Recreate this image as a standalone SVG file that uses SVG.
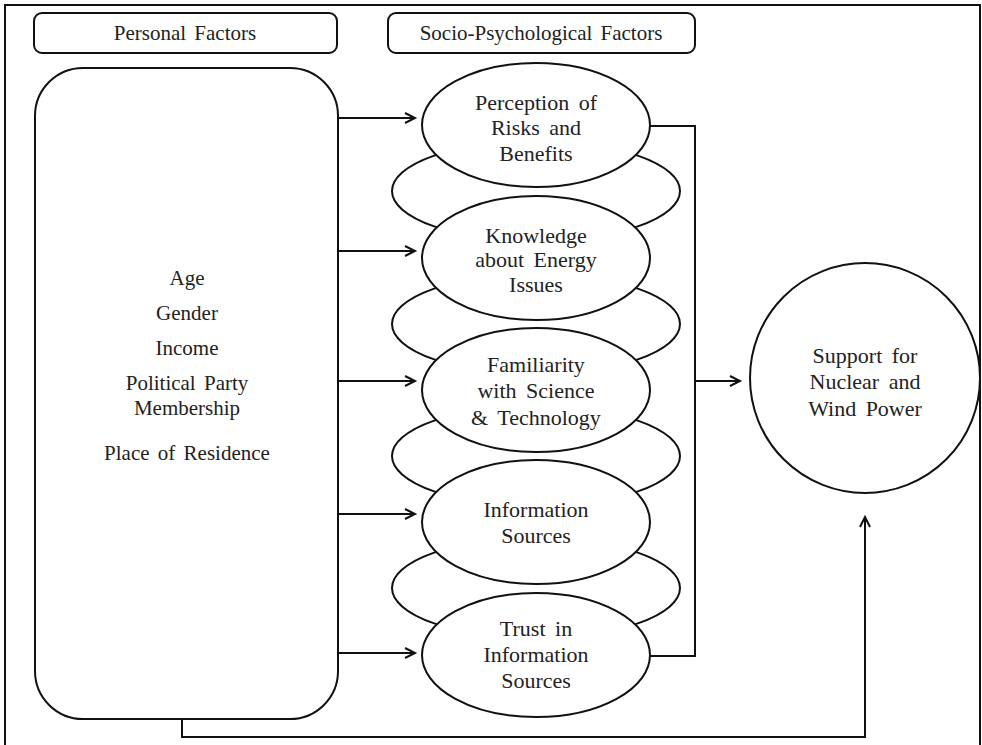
<svg xmlns="http://www.w3.org/2000/svg" width="982" height="745" viewBox="0 0 982 745">
<style>
.s{fill:none;stroke:#111;stroke-width:2}
.w{fill:#fff;stroke:#111;stroke-width:2}
text{font-family:"Liberation Serif","Times New Roman",serif;font-size:22px;fill:#222;text-anchor:middle;word-spacing:4px}
.l{font-size:21px;word-spacing:3px}
.c{stroke:#111;stroke-width:2;fill:none}
</style>
<defs>
<marker id="ah" markerUnits="userSpaceOnUse" markerWidth="14" markerHeight="14" refX="11" refY="6" orient="auto">
<path d="M1,1 L11,6 L1,11" fill="none" stroke="#111" stroke-width="2"/>
</marker>
</defs>
<rect width="982" height="745" fill="#fff"/>
<path class="s" d="M5,745 V5 H980 V745"/>
<g id="label-personal"><rect class="w" x="34" y="13" width="303" height="40" rx="8"/><text class="l" x="185" y="40">Personal Factors</text></g>
<g id="label-socio"><rect class="w" x="388" y="13" width="307" height="40" rx="8"/><text class="l" x="541" y="40">Socio-Psychological Factors</text></g>
<g id="personal">
<rect class="w" x="35" y="68" width="303" height="651" rx="48"/>
<text class="l" x="187" y="285">Age</text>
<text class="l" x="187" y="320">Gender</text>
<text class="l" x="187" y="355">Income</text>
<text class="l" x="187" y="390">Political Party</text>
<text class="l" x="187" y="415">Membership</text>
<text class="l" x="187" y="460">Place of Residence</text>
</g>
<g id="bg-ellipses">
<ellipse class="w" cx="536" cy="191" rx="144" ry="50"/>
<ellipse class="w" cx="536" cy="324" rx="144" ry="50"/>
<ellipse class="w" cx="536" cy="456" rx="144" ry="50"/>
<ellipse class="w" cx="536" cy="588" rx="144" ry="50"/>
</g>
<g id="perception"><ellipse class="w" cx="536" cy="125" rx="114" ry="62"/>
<text x="536" y="110">Perception of</text><text x="536" y="135">Risks and</text><text x="536" y="161">Benefits</text></g>
<g id="knowledge"><ellipse class="w" cx="536" cy="258" rx="114" ry="62"/>
<text x="536" y="243">Knowledge</text><text x="536" y="267">about Energy</text><text x="536" y="292">Issues</text></g>
<g id="familiarity"><ellipse class="w" cx="536" cy="390" rx="114" ry="62"/>
<text x="536" y="372">Familiarity</text><text x="536" y="398">with Science</text><text x="536" y="425">&amp; Technology</text></g>
<g id="information"><ellipse class="w" cx="536" cy="522" rx="114" ry="62"/>
<text x="536" y="517">Information</text><text x="536" y="543">Sources</text></g>
<g id="trust"><ellipse class="w" cx="536" cy="655" rx="114" ry="62"/>
<text x="536" y="636">Trust in</text><text x="536" y="662">Information</text><text x="536" y="688">Sources</text></g>
<g id="support"><circle class="w" cx="865" cy="378" r="115"/>
<text x="865" y="363">Support for</text><text x="865" y="389">Nuclear and</text><text x="865" y="416">Wind Power</text></g>
<g id="connectors">
<line class="c" x1="338" y1="118" x2="415" y2="118" marker-end="url(#ah)"/>
<line class="c" x1="338" y1="251" x2="415" y2="251" marker-end="url(#ah)"/>
<line class="c" x1="338" y1="381" x2="415" y2="381" marker-end="url(#ah)"/>
<line class="c" x1="338" y1="514" x2="415" y2="514" marker-end="url(#ah)"/>
<line class="c" x1="338" y1="653" x2="415" y2="653" marker-end="url(#ah)"/>
<path class="c" d="M649,126 H695 V656 H649"/>
<line class="c" x1="695" y1="381" x2="740" y2="381" marker-end="url(#ah)"/>
<path class="c" d="M182,719 V737 H865 V517" marker-end="url(#ah)"/>
</g>
</svg>
